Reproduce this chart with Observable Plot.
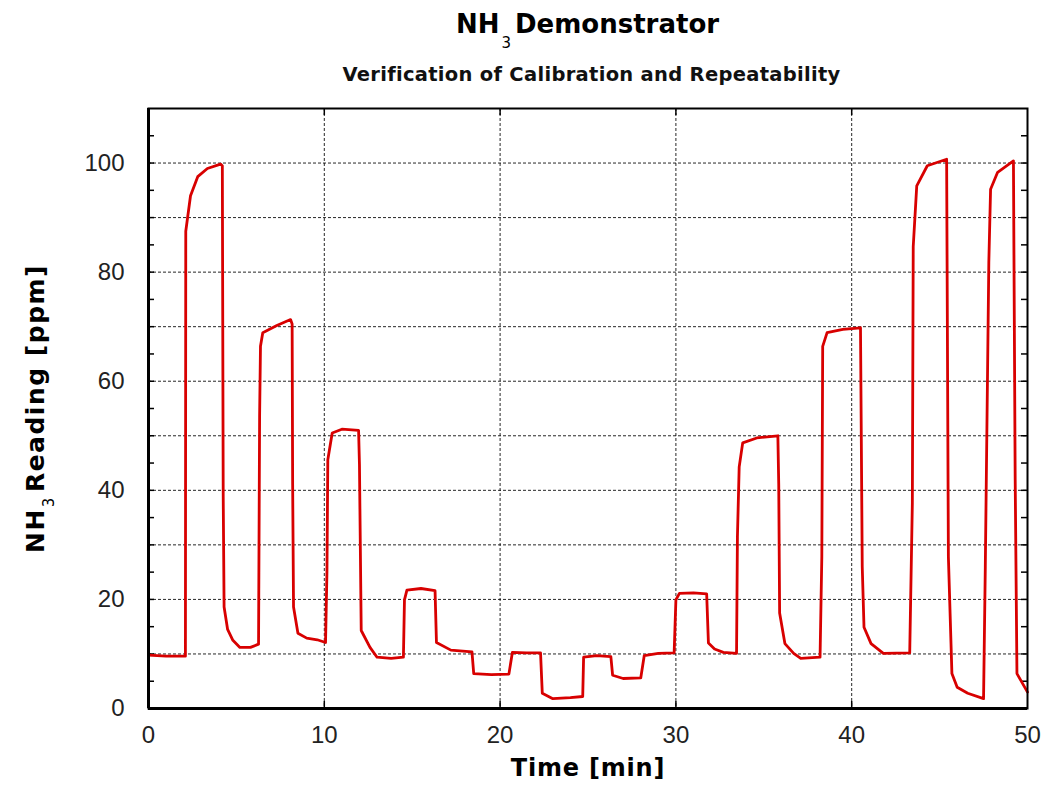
<!DOCTYPE html>
<html>
<head>
<meta charset="utf-8">
<script src="https://cdn.jsdelivr.net/npm/d3@7"></script>
<script src="https://cdn.jsdelivr.net/npm/@observablehq/plot@0.6"></script>
<style>
  html, body { margin: 0; padding: 0; background: #fff; }
  #head { position: relative; width: 1061px; height: 92px; }
  #title, #subtitle {
    position: absolute; left: 148px; width: 879px; text-align: center;
    font-family: "DejaVu Sans", sans-serif; font-weight: bold; color: #000; white-space: nowrap;
  }
  #title { top: 11px; font-size: 26px; line-height: 26px; }
  #title .sub { font-size: 15px; font-weight: normal; position: relative; top: 15px; margin: 0 4px 0 2px; }
  #subtitle { top: 65px; font-size: 19.5px; line-height: 19.5px; letter-spacing: 0.3px; color: #111; left: 152px; }
</style>
</head>
<body>
<div id="head">
  <div id="title">NH<span class="sub">3</span>Demonstrator</div>
  <div id="subtitle">Verification of Calibration and Repeatability</div>
</div>
<div id="chart"></div>
<script>
// Time [min] and NH3 reading [ppm]
const times = [
  0, 1.0, 2.1, 2.12, 2.39, 2.8, 3.35, 4.1, 4.2, 4.25, 4.3, 4.5, 4.8, 5.2, 5.8, 6.26,
  6.32, 6.37, 6.5, 7.3, 8.08, 8.17, 8.2, 8.25, 8.5, 9.0, 9.6, 10.07,
  10.15, 10.2, 10.45, 11.0, 11.95, 12.0, 12.1, 12.6, 13.0, 13.8, 14.5,
  14.56, 14.7, 15.5, 16.3, 16.38, 17.2, 18.4, 18.5, 19.5, 20.5,
  20.7, 21.5, 22.3, 22.4, 23.0, 24.0, 24.7, 24.75, 25.5, 26.3, 26.4, 27.0, 28.0,
  28.2, 29.0, 29.9, 30.0, 30.2, 31.0, 31.75, 31.85, 32.2, 32.7, 33.45,
  33.5, 33.6, 33.8, 34.6, 35.8, 35.85, 35.9, 36.2, 36.7, 37.1, 38.2,
  38.3, 38.35, 38.6, 39.5, 40.5, 40.6, 40.7, 41.1, 41.8, 43.3,
  43.45, 43.5, 43.7, 44.3, 45.4, 45.5, 45.7, 46.0, 46.6, 47.5,
  47.6, 47.8, 47.9, 48.3, 49.2, 49.3, 49.4, 50
];
const ppm = [
  9.8, 9.6, 9.6, 87.5, 94, 97.5, 99, 99.8, 99.5, 38.8, 18.6, 14.5, 12.5, 11.2, 11.2, 11.8,
  53.5, 66.4, 68.9, 70.2, 71.3, 70.5, 41, 18.6, 13.8, 12.9, 12.6, 12.1,
  25, 45.6, 50.5, 51.2, 51, 44.7, 14.3, 11.2, 9.4, 9.2, 9.4,
  19.9, 21.7, 22, 21.6, 12.1, 10.7, 10.4, 6.4, 6.2, 6.3,
  10.3, 10.2, 10.2, 2.8, 1.8, 2.0, 2.2, 9.4, 9.7, 9.5, 6.1, 5.5, 5.6,
  9.7, 10.1, 10.2, 19.9, 21.1, 21.2, 21.0, 12, 10.9, 10.3, 10.1,
  31.5, 44.3, 48.7, 49.6, 50, 41, 17.5, 11.9, 10.1, 9.2, 9.4,
  27.8, 66.4, 68.9, 69.5, 69.8, 26, 14.9, 11.9, 10.1, 10.2,
  37.7, 84.7, 95.8, 99.5, 100.7, 27.8, 6.4, 3.9, 2.8, 1.8,
  26, 81.8, 95.2, 98.3, 100.4, 41.9, 6.4, 3.0
];
const xTickValues = [0, 10, 20, 30, 40, 50];
const yTickValues = [0, 20, 40, 60, 80, 100];
const xGridValues = [10, 20, 30, 40];
const yGridValues = [10, 20, 30, 40, 50, 60, 70, 80, 90, 100];
const yMinorTicks = [5, 10, 15, 20, 25, 30, 35, 40, 45, 50, 55, 60, 65, 70, 75, 80, 85, 90, 95, 100, 105];
const xLabel = "Time [min]";
const yLabel = "NH₃ Reading [ppm]";

const data = times.map((t, i) => ({t, v: ppm[i]}));

const W = 1061, H = 699, mT = 16, mR = 34, mB = 83, mL = 148;
const fw = W - mL - mR, fh = H - mT - mB;

const chart = Plot.plot({
  width: W, height: H,
  marginTop: mT, marginRight: mR, marginBottom: mB, marginLeft: mL,
  x: {domain: [0, 50]},
  y: {domain: [0, 110]},
  style: {fontFamily: "'Liberation Sans', Arial, sans-serif", background: "#fff", color: "#222"},
  marks: [
    Plot.ruleY(yGridValues, {stroke: "#000", strokeWidth: 1, strokeDasharray: "3,2", strokeOpacity: 0.85}),
    Plot.ruleX(xGridValues, {stroke: "#000", strokeWidth: 1, strokeDasharray: "3,2", strokeOpacity: 0.85}),
    Plot.ruleY(yMinorTicks, {stroke: "#000", strokeWidth: 1.5, insetRight: fw - 6}),
    Plot.ruleY(yMinorTicks, {stroke: "#000", strokeWidth: 1.5, insetLeft: fw - 6}),
    Plot.ruleX(xGridValues, {stroke: "#000", strokeWidth: 1.5, insetTop: fh - 7}),
    Plot.ruleX(xGridValues, {stroke: "#000", strokeWidth: 1.5, insetBottom: fh - 7}),
    Plot.line(data, {x: "t", y: "v", stroke: "#d80000", strokeWidth: 2.8, strokeLinejoin: "round"}),
    Plot.frame({stroke: "#000", strokeWidth: 2}),
    Plot.ruleY([0], {stroke: "#000", strokeWidth: 3}),
    Plot.ruleX([0], {stroke: "#000", strokeWidth: 3}),
    Plot.axisX(xTickValues, {tickSize: 0, tickPadding: 17, fontSize: 24, label: null, fill: "#222"}),
    Plot.axisY(yTickValues, {tickSize: 0, tickPadding: 24, fontSize: 24, label: null, fill: "#222"}),
    Plot.text([xLabel], {text: d => d, frameAnchor: "bottom", dy: 67, fontSize: 24, fontWeight: "bold",
      textAnchor: "middle", fontFamily: "'DejaVu Sans', sans-serif", fill: "#000"}),
    Plot.text([yLabel], {text: d => d, frameAnchor: "left", dx: -113, rotate: -90, fontSize: 25, fontWeight: "bold",
      textAnchor: "middle", fontFamily: "'DejaVu Sans', sans-serif", fill: "#000"})
  ]
});
document.getElementById("chart").appendChild(chart);

const svg = d3.select(chart);
// slightly wider axis titles, as in the reference
svg.selectAll("text").filter(function () { return this.textContent === xLabel; })
  .style("letter-spacing", "0.8px");
// render the subscript 3 in the y-axis label as a lowered tspan
svg.selectAll("text").filter(function () { return this.textContent === yLabel; })
  .style("letter-spacing", "1.5px")
  .each(function () {
    const t = d3.select(this);
    t.text("");
    t.append("tspan").text("NH");
    t.append("tspan").attr("dy", 10).attr("dx", 1).attr("font-size", 15).attr("font-weight", "normal").text("3");
    t.append("tspan").attr("dy", -10).attr("dx", 4).text("Reading [ppm]");
  });
</script>
</body>
</html>
